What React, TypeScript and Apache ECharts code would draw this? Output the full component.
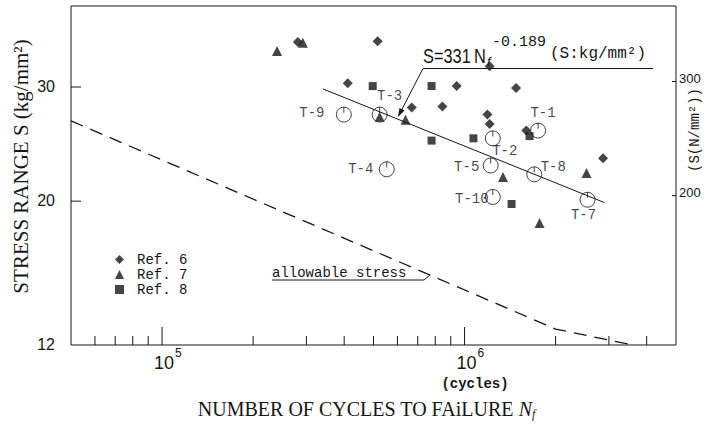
import React, { useEffect, useRef } from "react";
import * as echarts from "echarts";

// ---------- data ----------
const KG_TO_N = 9.80665;
const X_MIN = 5e4;
const X_MAX = 5e6;
const Y_MIN = 12;
const Y_MAX = 40;

const REF6_N = [2.81e5, 5.16e5, 4.11e5, 6.69e5, 8.45e5, 9.42e5, 1.21e6, 1.48e6, 1.19e6, 1.21e6, 1.6e6, 2.87e6];
const REF6_S = [35.2, 35.3, 30.4, 27.9, 28.0, 30.1, 32.3, 29.9, 27.2, 26.3, 25.7, 23.3];
const REF7_N = [2.4e5, 2.92e5, 5.24e5, 6.38e5, 1.34e6, 2.53e6, 1.77e6];
const REF7_S = [34.1, 35.1, 27.0, 26.7, 21.8, 22.1, 18.5];
const REF8_N = [4.97e5, 7.78e5, 7.78e5, 1.07e6, 1.64e6, 1.43e6];
const REF8_S = [30.1, 30.1, 24.8, 25.0, 25.2, 19.8];

const TEST_NAMES = ["T-9", "T-3", "T-4", "T-2", "T-1", "T-5", "T-8", "T-10", "T-7"];
const TEST_N = [3.99e5, 5.24e5, 5.53e5, 1.24e6, 1.75e6, 1.22e6, 1.7e6, 1.24e6, 2.55e6];
const TEST_S = [27.2, 27.2, 22.4, 25.0, 25.7, 22.7, 22.0, 20.3, 20.1];

const FIT_N = [3.4e5, 2.9e6];
const FIT_S = [29.8, 19.9];
const ALLOW_N = [5e4, 2e6, 3.6e6];
const ALLOW_S = [26.6, 12.7, 12.0];

const X_MAJOR_TICKS = [1e5, 1e6];
const X_MAJOR_EXP = [5, 6];
const X_MINOR_TICKS = [6e4, 7e4, 8e4, 9e4, 2e5, 3e5, 4e5, 5e5, 6e5, 7e5, 8e5, 9e5, 2e6, 3e6, 4e6];
const Y_TICKS = [30, 20];
const Y_TICK_LABELS = [30, 20, 12];
const RIGHT_TICKS_NMM = [300, 200];

// ---------- styles ----------
const INK = "#161616";
const MONO = "'Courier New', 'Liberation Mono', monospace";
const SANS = "'Liberation Sans', Arial, sans-serif";
const SERIF = "'Liberation Serif', 'Times New Roman', serif";
const TEST_LABEL_OFFSETS = [
  [-32, -2], [10, -19], [-26, 0], [12, 13], [5, -18], [-24, 1], [19, -7], [-21, 2], [-4, 15],
];
const CIRCLE_SYMBOL = "path://M8,0 A8,8 0 1,1 8,16 A8,8 0 1,1 8,0 Z M8,0 L8,6";

export default function App() {
  const ref = useRef<HTMLDivElement | null>(null);

  useEffect(() => {
    if (!ref.current) return;
    const chart = echarts.init(ref.current, null, { renderer: "svg" });

    const pairs = (xs: number[], ys: number[]) => xs.map((x, i) => [x, ys[i]]);

    const option: any = {
      animation: false,
      backgroundColor: "#ffffff",
      grid: {
        left: 71,
        top: 6,
        right: 30,
        bottom: 79,
        show: true,
        borderColor: INK,
        borderWidth: 1,
        backgroundColor: "transparent",
      },
      legend: {
        data: ["Ref. 6", "Ref. 7", "Ref. 8"],
        orient: "vertical",
        left: 110,
        top: 247,
        itemWidth: 9,
        itemHeight: 9,
        itemGap: 0,
        textStyle: {
          fontFamily: MONO,
          fontSize: 14,
          color: INK,
          lineHeight: 15,
          padding: [0, 0, 0, 8],
        },
      },
      xAxis: {
        type: "log",
        logBase: 10,
        min: X_MIN,
        max: X_MAX,
        axisLine: { show: false },
        axisTick: { show: false },
        axisLabel: { show: false },
        splitLine: { show: false },
        name: "{a|NUMBER OF CYCLES TO FAiLURE }{n|N}{f|f}",
        nameLocation: "middle",
        nameGap: 53,
        nameTextStyle: {
          padding: [0, 14, 0, 0],
          rich: {
            a: { fontFamily: SERIF, fontSize: 20, color: INK, lineHeight: 22 },
            n: { fontFamily: SERIF, fontSize: 20, fontStyle: "italic", color: INK, lineHeight: 22 },
            f: { fontFamily: SERIF, fontSize: 12, fontStyle: "italic", color: INK, lineHeight: 15, verticalAlign: "bottom" },
          },
        },
      },
      yAxis: [
        {
          type: "log",
          logBase: 10,
          min: Y_MIN,
          max: Y_MAX,
          axisLine: { show: false },
          axisTick: { show: false },
          axisLabel: { show: false },
          splitLine: { show: false },
          name: "STRESS RANGE S (kg/mm²)",
          nameLocation: "middle",
          nameRotate: 90,
          nameGap: 40,
          nameTextStyle: {
            fontFamily: SERIF,
            fontSize: 21,
            color: INK,
            padding: [0, 0, 0, 18],
          },
        },
        {
          type: "log",
          logBase: 10,
          position: "right",
          min: Y_MIN * KG_TO_N,
          max: Y_MAX * KG_TO_N,
          axisLine: { show: false },
          axisTick: { show: false },
          axisLabel: { show: false },
          splitLine: { show: false },
        },
      ],
      series: [
        {
          name: "allowable",
          type: "line",
          data: pairs(ALLOW_N, ALLOW_S),
          symbol: "none",
          lineStyle: { color: INK, width: 1.3, type: [13, 8] },
          silent: true,
          z: 1,
        },
        {
          name: "fit",
          type: "line",
          data: pairs(FIT_N, FIT_S),
          symbol: "none",
          lineStyle: { color: INK, width: 1 },
          silent: true,
          z: 1,
        },
        {
          name: "Ref. 6",
          type: "scatter",
          symbol: "diamond",
          symbolSize: 10,
          itemStyle: { color: INK },
          data: pairs(REF6_N, REF6_S),
          z: 3,
        },
        {
          name: "Ref. 7",
          type: "scatter",
          symbol: "triangle",
          symbolSize: 10,
          itemStyle: { color: INK },
          data: pairs(REF7_N, REF7_S),
          z: 3,
        },
        {
          name: "Ref. 8",
          type: "scatter",
          symbol: "rect",
          symbolSize: 8,
          itemStyle: { color: INK },
          data: pairs(REF8_N, REF8_S),
          z: 3,
        },
        {
          name: "tests",
          type: "scatter",
          symbol: CIRCLE_SYMBOL,
          symbolSize: 15,
          itemStyle: { color: "rgba(0,0,0,0)", borderColor: INK, borderWidth: 1 },
          label: {
            show: true,
            position: "inside",
            formatter: "{b}",
            fontFamily: MONO,
            fontSize: 14,
            color: INK,
          },
          data: TEST_NAMES.map((name, i) => ({
            name,
            value: [TEST_N[i], TEST_S[i]],
            label: { offset: TEST_LABEL_OFFSETS[i] },
          })),
          z: 4,
        },
        // x-axis ticks (inside, from the bottom edge)
        {
          type: "custom",
          clip: false,
          silent: true,
          data: [
            ...X_MINOR_TICKS.map((v) => [v, Y_MIN, 0]),
            ...X_MAJOR_TICKS.map((v) => [v, Y_MIN, 1]),
          ],
          renderItem: (_p: any, api: any) => {
            const pt = api.coord([api.value(0), Y_MIN]);
            const len = api.value(2) ? 18 : 9;
            return {
              type: "line",
              shape: { x1: pt[0], y1: pt[1], x2: pt[0], y2: pt[1] - len },
              style: { stroke: INK, lineWidth: 1 },
            };
          },
          z: 5,
        },
        // x-axis labels 10^5, 10^6
        {
          type: "custom",
          clip: false,
          silent: true,
          data: X_MAJOR_TICKS.map((v, i) => [v, Y_MIN, X_MAJOR_EXP[i]]),
          renderItem: (_p: any, api: any) => {
            const pt = api.coord([api.value(0), Y_MIN]);
            return {
              type: "group",
              children: [
                {
                  type: "text",
                  x: pt[0] + 12,
                  y: pt[1] + 18,
                  style: { text: "10", font: `18px ${SANS}`, fill: INK, align: "right", verticalAlign: "middle" },
                },
                {
                  type: "text",
                  x: pt[0] + 13,
                  y: pt[1] + 8,
                  style: { text: String(api.value(2)), font: `12px ${SANS}`, fill: INK, align: "left", verticalAlign: "middle" },
                },
              ],
            };
          },
          z: 5,
        },
        // y-axis ticks (inside, from the left edge)
        {
          type: "custom",
          clip: false,
          silent: true,
          data: Y_TICKS.map((v) => [X_MIN, v]),
          renderItem: (_p: any, api: any) => {
            const pt = api.coord([X_MIN, api.value(1)]);
            return {
              type: "line",
              shape: { x1: pt[0], y1: pt[1], x2: pt[0] + 10, y2: pt[1] },
              style: { stroke: INK, lineWidth: 1 },
            };
          },
          z: 5,
        },
        // y-axis labels
        {
          type: "custom",
          clip: false,
          silent: true,
          data: Y_TICK_LABELS.map((v) => [X_MIN, v]),
          renderItem: (_p: any, api: any) => {
            const pt = api.coord([X_MIN, api.value(1)]);
            return {
              type: "text",
              x: pt[0] - 16,
              y: pt[1] - 1,
              style: { text: String(api.value(1)), font: `16px ${SANS}`, fill: INK, align: "right", verticalAlign: "middle" },
            };
          },
          z: 5,
        },
        // right axis (N/mm2) ticks and labels
        {
          type: "custom",
          clip: false,
          silent: true,
          yAxisIndex: 1,
          data: RIGHT_TICKS_NMM.map((v) => [X_MAX, v]),
          renderItem: (_p: any, api: any) => {
            const pt = api.coord([X_MAX, api.value(1)]);
            return {
              type: "group",
              children: [
                {
                  type: "line",
                  shape: { x1: pt[0] - 4, y1: pt[1], x2: pt[0], y2: pt[1] },
                  style: { stroke: INK, lineWidth: 1 },
                },
                {
                  type: "text",
                  x: pt[0] + 3,
                  y: pt[1] - 3,
                  style: { text: String(api.value(1)), font: `13px ${SANS}`, fill: INK, align: "left", verticalAlign: "middle" },
                },
              ],
            };
          },
          z: 5,
        },
      ],
      graphic: [
        // regression equation
        {
          type: "text",
          x: 423,
          y: 55.5,
          scaleX: 0.78,
          style: { text: "S=331", font: `21px ${SANS}`, fill: INK, verticalAlign: "middle" },
        },
        {
          type: "text",
          x: 474,
          y: 55.5,
          scaleX: 0.78,
          style: { text: "N", font: `21px ${SANS}`, fill: INK, verticalAlign: "middle" },
        },
        {
          type: "text",
          x: 487,
          y: 61,
          style: { text: "f", font: `italic 13px ${SANS}`, fill: INK, verticalAlign: "middle" },
        },
        {
          type: "text",
          x: 492,
          y: 42.5,
          style: { text: "-0.189", font: `15px ${MONO}`, fill: INK, verticalAlign: "middle" },
        },
        {
          type: "text",
          x: 550,
          y: 54,
          style: { text: "(S:kg/mm²)", font: `16px ${MONO}`, fill: INK, verticalAlign: "middle" },
        },
        {
          type: "polyline",
          shape: { points: [[399, 115], [423, 68.5], [653, 68.5]] },
          style: { stroke: INK, lineWidth: 1, fill: null },
        },
        {
          type: "polygon",
          shape: { points: [[398, 117], [404.5, 110.5], [399.5, 108]] },
          style: { fill: INK },
        },
        // allowable stress label
        {
          type: "text",
          x: 272,
          y: 273,
          style: { text: "allowable stress", font: `14px ${MONO}`, fill: INK, verticalAlign: "middle" },
        },
        {
          type: "polyline",
          shape: { points: [[272, 280], [424, 280], [430, 275]] },
          style: { stroke: INK, lineWidth: 1, fill: null },
        },
        // units under x axis
        {
          type: "text",
          x: 475,
          y: 384,
          style: { text: "(cycles)", font: `bold 14px ${MONO}`, fill: INK, align: "center", verticalAlign: "middle" },
        },
        // right axis title
        {
          type: "text",
          x: 695,
          y: 130,
          rotation: Math.PI / 2,
          style: { text: "(S(N/mm²))", font: `14px ${MONO}`, fill: INK, align: "center", verticalAlign: "middle" },
        },
      ],
    };

    chart.setOption(option);
    return () => {
      chart.dispose();
    };
  }, []);

  return (
    <div
      ref={ref}
      style={{ position: "fixed", left: 0, top: 0, width: 706, height: 425, background: "#fff" }}
    />
  );
}
